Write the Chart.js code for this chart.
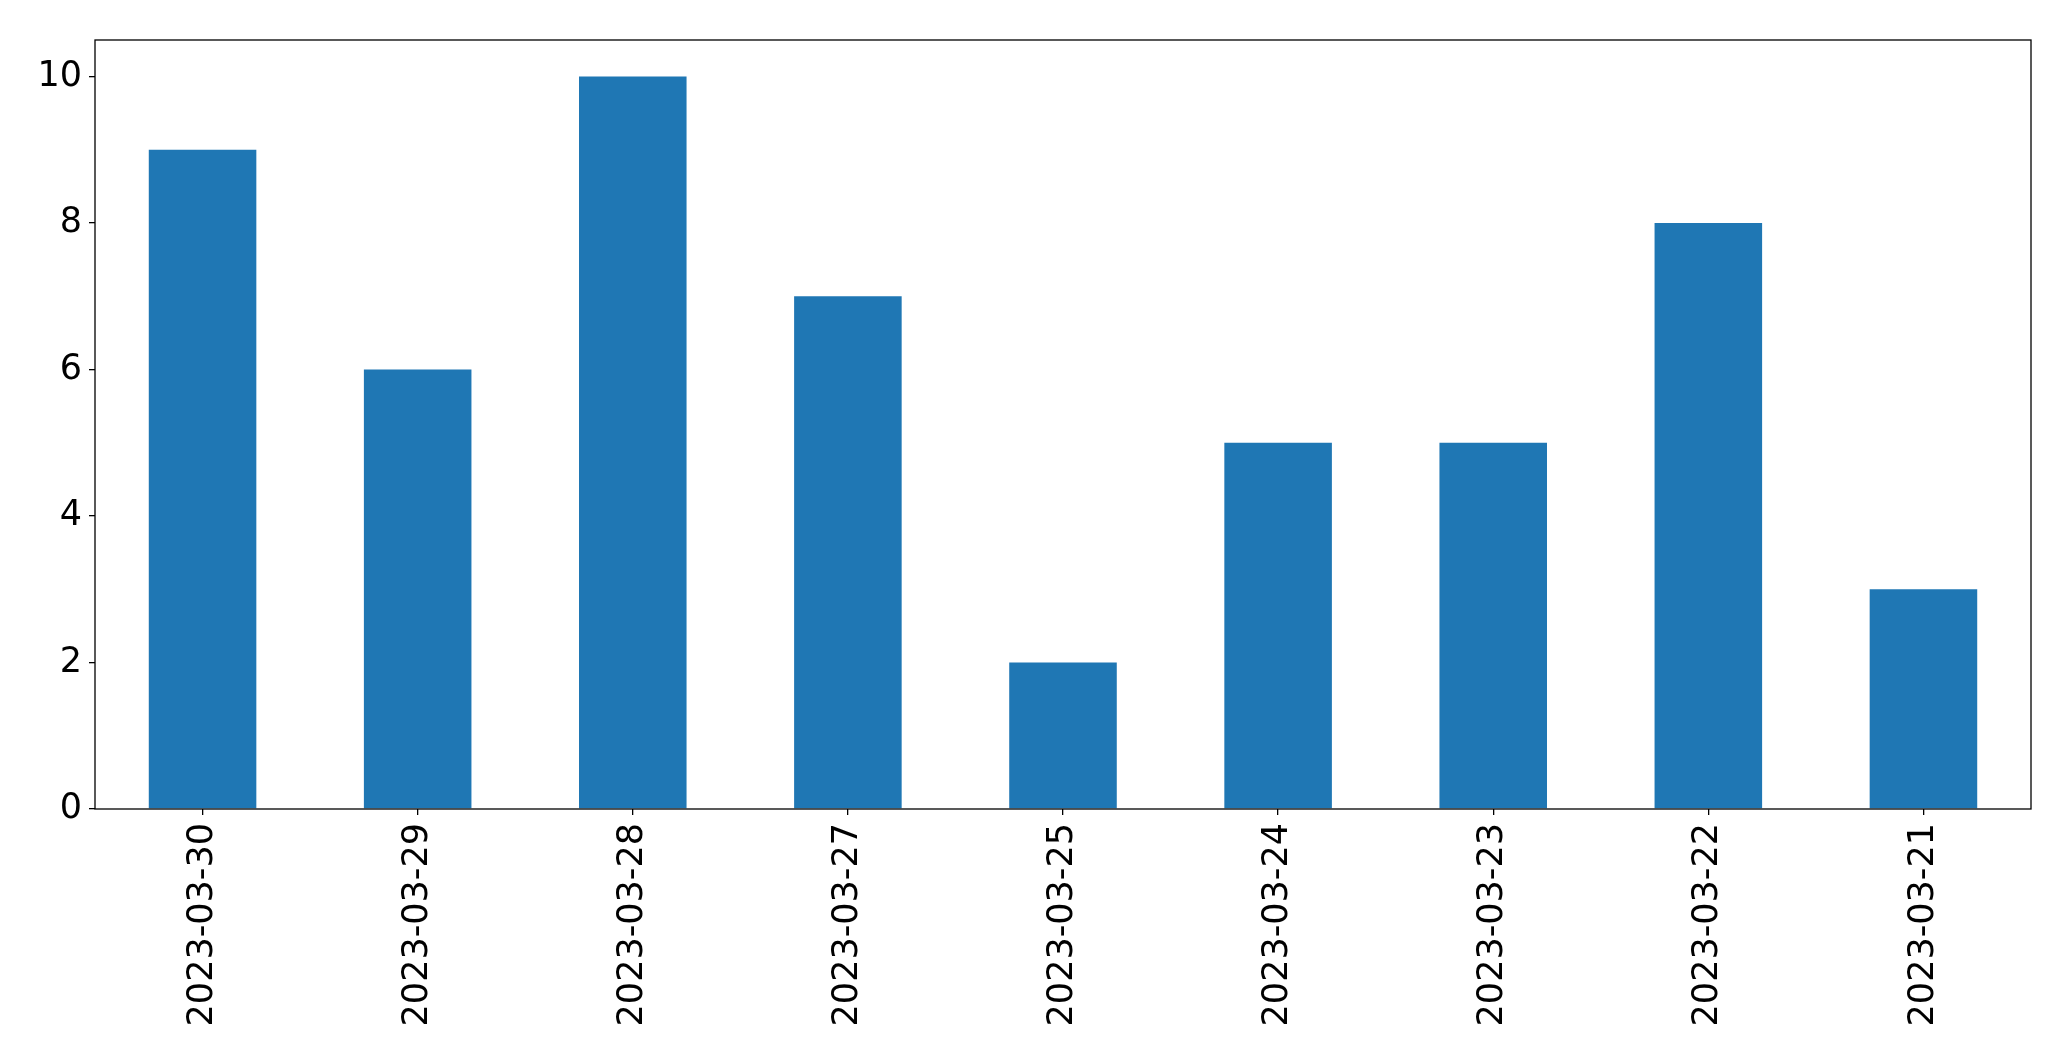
<!DOCTYPE html>
<html>
<head>
<meta charset="utf-8">
<script src="https://cdn.jsdelivr.net/npm/chart.js@4/dist/chart.umd.min.js"></script>
<style>
  html, body { margin: 0; padding: 0; background: #fff; }
  #wrap { width: 2071px; height: 1061px; }
</style>
</head>
<body>
<div id="wrap"><canvas id="chart" width="2071" height="1061"></canvas></div>
<script>
const dates = ['2023-03-30', '2023-03-29', '2023-03-28', '2023-03-27', '2023-03-25',
               '2023-03-24', '2023-03-23', '2023-03-22', '2023-03-21'];
const counts = [9, 6, 10, 7, 2, 5, 5, 8, 3];
const yTicks = [0, 2, 4, 6, 8, 10];

const FONT = { family: 'DejaVu Sans', size: 35 };

// marco completo alrededor del area de datos
const frame = {
  id: 'frame',
  afterDraw(chart) {
    const a = chart.chartArea;
    const c = chart.ctx;
    c.save();
    c.strokeStyle = '#000';
    c.lineWidth = 1.3;
    c.strokeRect(a.left, a.top, a.right - a.left, a.bottom - a.top);
    c.restore();
  }
};

new Chart(document.getElementById('chart').getContext('2d'), {
  type: 'bar',
  data: {
    labels: dates,
    datasets: [{
      data: counts,
      backgroundColor: '#1f77b4',
      barPercentage: 0.5,
      categoryPercentage: 1.0
    }]
  },
  options: {
    responsive: false,
    animation: false,
    layout: { padding: { top: 40, right: 40, left: 0, bottom: 0 } },
    plugins: { legend: { display: false }, tooltip: { enabled: false } },
    scales: {
      x: {
        offset: true,
        grid: { display: true, offset: false, drawOnChartArea: false, tickLength: 6, color: '#000', lineWidth: 1.3 },
        border: { display: false },
        ticks: { color: '#000', font: FONT, minRotation: 90, maxRotation: 90, padding: 8 },
        afterFit(scale) { scale.height = 252; }
      },
      y: {
        min: 0,
        max: 10.5,
        afterBuildTicks(scale) { scale.ticks = yTicks.map(v => ({ value: v })); },
        grid: { display: true, drawOnChartArea: false, tickLength: 6, color: '#000', lineWidth: 1.3 },
        border: { display: false },
        ticks: { color: '#000', font: FONT, padding: 7 },
        afterFit(scale) { scale.width = 95; }
      }
    }
  },
  plugins: [frame]
});
</script>
</body>
</html>
